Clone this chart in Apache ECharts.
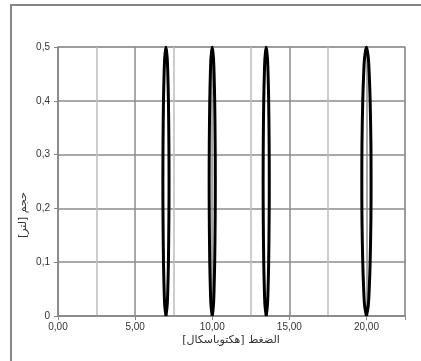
<!DOCTYPE html>
<html>
<head>
<meta charset="utf-8">
<script src="https://cdn.jsdelivr.net/npm/echarts@6/dist/echarts.min.js"></script>
<style>
    html, body { margin: 0; padding: 0; background: #fff; }
    #main { width: 421px; height: 361px; }
</style>
</head>
<body>
<div id="main"></div>
<script>
// 轴标题
var xTitle = 'الضغط [هكتوباسكال]';
var yTitle = 'حجم [لتر]';

// 透镜轮廓 (y 值, 闭合)
var lensY = [0, 0.02, 0.05, 0.1, 0.18, 0.25, 0.32, 0.4, 0.45, 0.48, 0.5,
             0.48, 0.45, 0.4, 0.32, 0.25, 0.18, 0.1, 0.05, 0.02, 0];
// 每个透镜的 x 值
var lens1X = [7.0, 6.92, 6.88, 6.84, 6.81, 6.80, 6.81, 6.84, 6.88, 6.92, 7.0,
              7.08, 7.12, 7.16, 7.19, 7.20, 7.19, 7.16, 7.12, 7.08, 7.0];
var lens2X = [10.0, 9.92, 9.88, 9.84, 9.81, 9.80, 9.81, 9.84, 9.88, 9.92, 10.0,
              10.08, 10.12, 10.16, 10.19, 10.20, 10.19, 10.16, 10.12, 10.08, 10.0];
var lens3X = [13.5, 13.42, 13.38, 13.34, 13.31, 13.30, 13.31, 13.34, 13.38, 13.42, 13.5,
              13.58, 13.62, 13.66, 13.69, 13.70, 13.69, 13.66, 13.62, 13.58, 13.5];
var lens4X = [20.0, 19.88, 19.82, 19.76, 19.71, 19.70, 19.71, 19.76, 19.82, 19.88, 20.0,
              20.12, 20.18, 20.24, 20.29, 20.30, 20.29, 20.24, 20.18, 20.12, 20.0];

function pairs(xs, ys) {
    var out = [];
    for (var i = 0; i < xs.length; i++) {
        out.push([xs[i], ys[i]]);
    }
    return out;
}

function lensSeries(xs) {
    return {
        type: 'line',
        data: pairs(xs, lensY),
        showSymbol: false,
        smooth: 0.3,
        lineStyle: { color: '#000', width: 3 },
        silent: true
    };
}

var myChart = echarts.init(document.getElementById('main'));
var labelFont = 'Liberation Sans, Arial, sans-serif';

var option = {
    animation: false,
    backgroundColor: '#fff',
    grid: {
        left: 58, right: 16, top: 47, bottom: 45,
        show: true,
        borderColor: '#bdbdbd',
        borderWidth: 1.5
    },
    xAxis: {
        type: 'value',
        min: 0, max: 22.5, interval: 5,
        axisLine: { lineStyle: { color: '#868686', width: 1.5 } },
        axisTick: { show: true, length: 4, lineStyle: { color: '#868686' } },
        axisLabel: {
            color: '#333', fontSize: 10, fontFamily: labelFont, margin: 6,
            formatter: function (v) {
                if (v % 5 !== 0) return '';
                return v.toFixed(2).replace('.', ',');
            }
        },
        splitLine: { show: true, lineStyle: { color: '#8c8c8c', width: 1.5 } },
        minorTick: { show: false, splitNumber: 2 },
        minorSplitLine: { show: true, lineStyle: { color: '#bdbdbd', width: 1.5 } }
    },
    yAxis: {
        type: 'value',
        min: 0, max: 0.5, interval: 0.1,
        axisLine: { show: true, lineStyle: { color: '#868686', width: 1.5 } },
        axisTick: { show: true, length: 4, lineStyle: { color: '#868686' } },
        axisLabel: {
            color: '#333', fontSize: 10, fontFamily: labelFont, margin: 8,
            formatter: function (v) {
                if (v === 0) return '0';
                return v.toFixed(1).replace('.', ',');
            }
        },
        splitLine: { show: true, lineStyle: { color: '#8c8c8c', width: 1.5 } }
    },
    graphic: [
        {
            // 外框
            type: 'rect',
            shape: { x: 11, y: 5, width: 440, height: 400 },
            style: { fill: 'none', stroke: '#868686', lineWidth: 2 },
            silent: true
        },
        {
            type: 'text',
            x: 231, y: 340,
            style: {
                text: xTitle, fill: '#333', fontSize: 11,
                fontFamily: 'DejaVu Sans, sans-serif',
                align: 'center', verticalAlign: 'middle'
            }
        },
        {
            type: 'text',
            x: 23, y: 215,
            rotation: Math.PI / 2,
            style: {
                text: yTitle, fill: '#333', fontSize: 11,
                fontFamily: 'DejaVu Sans, sans-serif',
                align: 'center', verticalAlign: 'middle'
            }
        }
    ],
    series: [
        lensSeries(lens1X),
        lensSeries(lens2X),
        lensSeries(lens3X),
        lensSeries(lens4X)
    ]
};
myChart.setOption(option);
</script>
</body>
</html>
